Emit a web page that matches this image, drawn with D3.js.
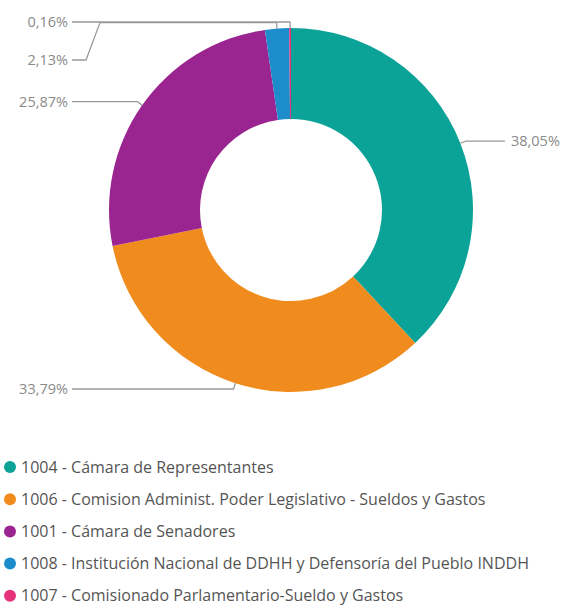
<!DOCTYPE html>
<html>
<head>
<meta charset="utf-8">
<script src="https://cdn.jsdelivr.net/npm/d3@7"></script>
<style>
  body { margin: 0; background: #fff; }
  svg { display: block; font-family: "Open Sans", sans-serif; }
</style>
</head>
<body>
<svg width="566" height="608"></svg>
<script>
// data
var categories = [
  "1004 - Cámara de Representantes",
  "1006 - Comision Administ. Poder Legislativo - Sueldos y Gastos",
  "1001 - Cámara de Senadores",
  "1008 - Institución Nacional de DDHH y Defensoría del Pueblo INDDH",
  "1007 - Comisionado Parlamentario-Sueldo y Gastos"
];
var shares = [38.05, 33.79, 25.87, 2.13, 0.16];
var colors = ["#0ba298", "#f08b1d", "#9b2590", "#1d8ccb", "#e5327b"];

var svg = d3.select("svg"),
    cx = 291, cy = 210,
    outerR = 182, innerR = 91;

var data = categories.map(function(c, i) { return {name: c, value: shares[i], color: colors[i]}; });

var pie = d3.pie().sort(null).value(function(d) { return d.value; });
var arc = d3.arc().innerRadius(innerR).outerRadius(outerR);

var g = svg.append("g").attr("transform", "translate(" + cx + "," + cy + ")");

var arcs = pie(data);

g.selectAll("path.slice")
    .data(arcs)
  .enter().append("path")
    .attr("class", "slice")
    .attr("d", arc)
    .attr("fill", function(d) { return d.data.color; });

// label layout
var fmt = function(v) { return d3.format(".2f")(v).replace(".", ",") + "%"; };
var labels = arcs.map(function(d) {
  var a = (d.startAngle + d.endAngle) / 2;
  return {
    d: d,
    a: a,
    left: Math.sin(a) < 0,
    ex: outerR * Math.sin(a), ey: -outerR * Math.cos(a),
    ax: (outerR + 6) * Math.sin(a), ay: -(outerR + 6) * Math.cos(a)
  };
});
labels.forEach(function(l) { l.y = l.ay; });

// push overlapping labels apart on each side
[true, false].forEach(function(side) {
  var s = labels.filter(function(l) { return l.left === side; })
    .sort(function(a, b) { return a.ay - b.ay || (b.a - a.a); });
  for (var i = 1; i < s.length; i++) {
    if (s[i].y < s[i - 1].y + 38) s[i].y = s[i - 1].y + 38;
  }
});

var leftTextX = 68 - cx, rightTextX = 511 - cx;

labels.forEach(function(l) {
  var tx = l.left ? leftTextX : rightTextX;
  var lx = l.left ? tx + 4 : tx - 6;
  var pts;
  if (l.left) {
    pts = [[lx, l.y], [lx + 14, l.y], [lx + 28, l.ay], [l.ax, l.ay], [l.ex, l.ey]];
  } else {
    pts = [[lx, l.y], [lx - 14, l.y], [lx - 28, l.ay], [l.ax, l.ay], [l.ex, l.ey]];
  }
  g.append("path")
    .attr("d", d3.line()(pts))
    .attr("fill", "none")
    .attr("stroke", "#9a9a9a")
    .attr("stroke-width", 1.3);

  g.append("text")
    .attr("x", tx)
    .attr("y", l.y)
    .attr("dy", "0.35em")
    .attr("text-anchor", l.left ? "end" : "start")
    .attr("font-size", 14.5)
    .attr("fill", "#8a8a8a")
    .text(fmt(l.d.data.value));
});

// legend
var legend = svg.append("g").attr("transform", "translate(0,467)");
var item = legend.selectAll("g")
    .data(data)
  .enter().append("g")
    .attr("transform", function(d, i) { return "translate(0," + (i * 32.2) + ")"; });

item.append("circle")
    .attr("cx", 10)
    .attr("cy", 0)
    .attr("r", 6)
    .attr("fill", function(d) { return d.color; });

item.append("text")
    .attr("x", 21)
    .attr("y", 0)
    .attr("dy", "0.35em")
    .attr("font-size", 16)
    .attr("fill", "#555")
    .text(function(d) { return d.name; });
</script>
</body>
</html>
